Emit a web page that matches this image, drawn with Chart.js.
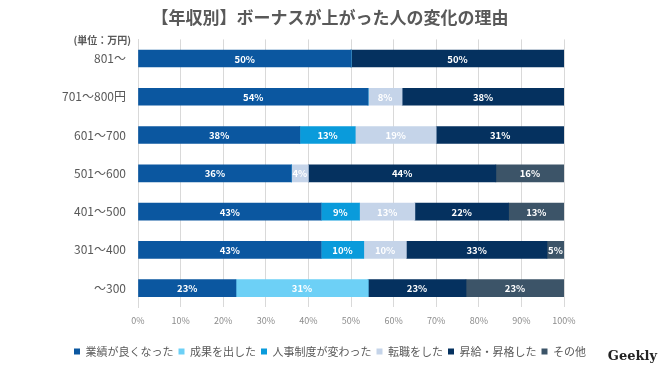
<!DOCTYPE html>
<html>
<head>
<meta charset="utf-8">
<script src="https://cdn.jsdelivr.net/npm/chart.js@4/dist/chart.umd.min.js"></script>
<style>
html,body{margin:0;padding:0;background:#fff;}
#wrap{width:660px;height:371px;position:relative;}
</style>
</head>
<body>
<div id="wrap"><canvas id="c" width="660" height="371"></canvas></div>
<script>
const categories = ["801～", "701～800円", "601～700", "501～600", "401～500", "301～400", "～300"];
const seriesNames = ["業績が良くなった", "成果を出した", "人事制度が変わった", "転職をした", "昇給・昇格した", "その他"];
const performance = [50, 54, 38, 36, 43, 43, 23];
const results = [0, 0, 0, 0, 0, 0, 31];
const hrSystem = [0, 0, 13, 0, 9, 10, 0];
const jobChange = [0, 8, 19, 4, 13, 10, 0];
const promotion = [50, 38, 31, 44, 22, 33, 23];
const other = [0, 0, 0, 16, 13, 5, 23];
const xTicks = [0, 10, 20, 30, 40, 50, 60, 70, 80, 90, 100];
const colors = ["#0B57A0", "#6DD0F6", "#0A9BDB", "#C5D4E9", "#05315F", "#3C5468"];
const seriesValues = [performance, results, hrSystem, jobChange, promotion, other];

const FONT = '"Noto Sans CJK JP", "Noto Sans", sans-serif';

const valueLabels = {
  id: 'valueLabels',
  afterDatasetsDraw(chart) {
    const ctx = chart.ctx;
    ctx.save();
    ctx.font = 'bold 9.5px ' + FONT;
    ctx.fillStyle = '#ffffff';
    ctx.textAlign = 'center';
    ctx.textBaseline = 'middle';
    chart.data.datasets.forEach((ds, di) => {
      const meta = chart.getDatasetMeta(di);
      meta.data.forEach((el, i) => {
        const v = ds.data[i];
        if (!v) return;
        const p = el.getProps(['x', 'base', 'y'], true);
        const right = Math.min(p.x, chart.chartArea.right);
        ctx.fillText(v + '%', (p.base + right) / 2, p.y + 0.5);
      });
    });
    ctx.restore();
  }
};

const extras = {
  id: 'extras',
  afterDraw(chart) {
    const ctx = chart.ctx;
    ctx.save();
    ctx.fillStyle = '#595959';
    ctx.font = 'bold 10px ' + FONT;
    ctx.textAlign = 'right';
    ctx.textBaseline = 'middle';
    ctx.fillText('(単位：万円)', 131, 40);
    ctx.fillStyle = '#222';
    ctx.font = 'bold 13px "DejaVu Serif", serif';
    ctx.textAlign = 'right';
    ctx.fillText('Geekly', 657, 357);
    ctx.restore();
  }
};

new Chart(document.getElementById('c'), {
  type: 'bar',
  data: {
    labels: categories,
    datasets: seriesNames.map((n, i) => ({
      label: n,
      data: seriesValues[i],
      backgroundColor: colors[i],
      borderWidth: 0,
      barThickness: 17,
      xAxisID: 'x',
      yAxisID: 'y'
    }))
  },
  options: {
    indexAxis: 'y',
    responsive: false,
    animation: false,
    devicePixelRatio: 1,
    layout: { padding: { left: 0, right: 0, top: 0, bottom: 4 } },
    scales: {
      x: {
        stacked: true,
        min: 0,
        max: 100,
        afterBuildTicks(s) { s.ticks = xTicks.map(v => ({ value: v })); },
        grid: { color: '#D9D9D9', drawTicks: false, lineWidth: 1 },
        border: { display: false },
        ticks: {
          padding: 8,
          color: '#8C8C8C',
          font: { family: FONT, size: 9 },
          callback: v => v + '%'
        },
        afterFit(s) { s.height += 7; }
      },
      y: {
        stacked: true,
        grid: { display: false, drawTicks: false },
        border: { display: true, color: '#D9D9D9' },
        ticks: {
          padding: 12,
          color: '#595959',
          font: { family: FONT, size: 12 }
        },
        afterFit(s) { s.width = 138; }
      },
      yRight: {
        type: 'category',
        position: 'right',
        display: true,
        grid: { display: false, drawTicks: false },
        border: { display: false },
        ticks: { display: false },
        afterFit(s) { s.width = 96; }
      }
    },
    plugins: {
      title: {
        display: true,
        text: '【年収別】ボーナスが上がった人の変化の理由',
        color: '#595959',
        font: { family: FONT, size: 17, weight: 'bold', lineHeight: 1.2 },
        padding: { top: 7, bottom: 12 }
      },
      legend: {
        display: true,
        position: 'bottom',
        labels: {
          boxWidth: 6,
          boxHeight: 6,
          padding: 5,
          color: '#595959',
          font: { family: FONT, size: 11 }
        }
      },
      tooltip: { enabled: false }
    }
  },
  plugins: [valueLabels, extras]
});
</script>
</body>
</html>
